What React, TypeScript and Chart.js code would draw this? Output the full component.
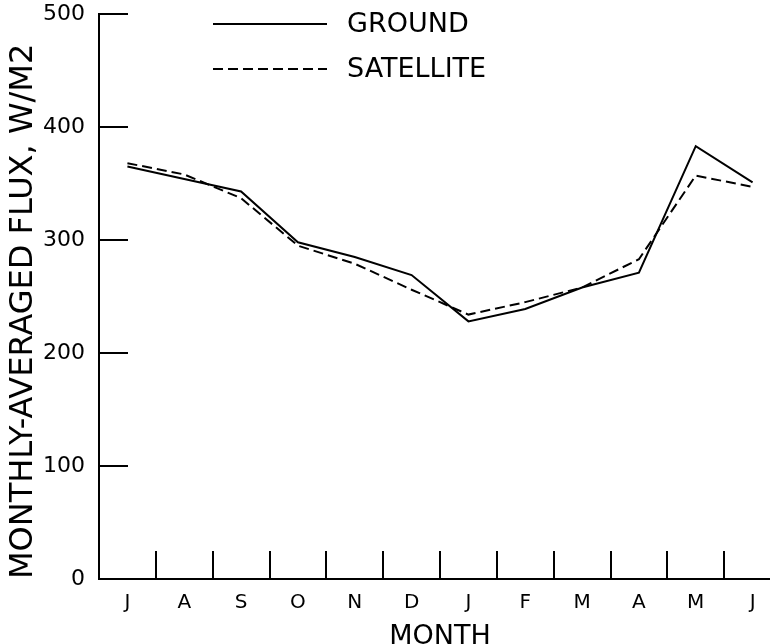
import React, { useEffect, useRef } from "react";
import { Chart, registerables } from "chart.js";

Chart.register(...registerables);

const months = ["J", "A", "S", "O", "N", "D", "J", "F", "M", "A", "M", "J"];
const groundFlux = [365, 354, 343, 298, 285, 269, 228, 239, 258, 271, 383, 351];
const satelliteFlux = [368, 358, 337, 295, 279, 256, 234, 245, 258, 283, 357, 347];
const seriesNames = ["GROUND", "SATELLITE"];
const yMin = 0;
const yMax = 500;
const yStep = 100;
const xTitle = "MONTH";
const yTitle = "MONTHLY-AVERAGED FLUX, W/M2";

const FONT = "'DejaVu Sans', 'Liberation Sans', sans-serif";

const innerTicksAndLegend = {
  id: "innerTicksAndLegend",
  afterDatasetsDraw(chart: any) {
    const { ctx, chartArea, scales } = chart;
    const xs = scales.x;
    const ys = scales.y;
    ctx.save();
    ctx.strokeStyle = "#000";
    ctx.lineWidth = 2;
    ctx.beginPath();
    for (let i = 0; i < xs.ticks.length - 1; i++) {
      const px = Math.round((xs.getPixelForTick(i) + xs.getPixelForTick(i + 1)) / 2);
      ctx.moveTo(px, chartArea.bottom);
      ctx.lineTo(px, chartArea.bottom - 28);
    }
    for (let i = 0; i < ys.ticks.length; i++) {
      const py = Math.round(ys.getPixelForTick(i));
      ctx.moveTo(chartArea.left, py);
      ctx.lineTo(chartArea.left + 29, py);
    }
    ctx.stroke();

    chart.data.datasets.forEach((ds: any, i: number) => {
      const yy = 24 + i * 45;
      ctx.setLineDash(ds.borderDash || []);
      ctx.lineWidth = 2;
      ctx.strokeStyle = ds.borderColor;
      ctx.beginPath();
      ctx.moveTo(213, yy);
      ctx.lineTo(327, yy);
      ctx.stroke();
      ctx.setLineDash([]);
      ctx.font = `27px ${FONT}`;
      ctx.textBaseline = "middle";
      ctx.textAlign = "left";
      ctx.fillStyle = "#000";
      ctx.fillText(ds.label, 347, yy + 1);
    });
    ctx.restore();
  },
};

export default function App() {
  const ref = useRef<HTMLCanvasElement | null>(null);

  useEffect(() => {
    if (!ref.current) return;
    const chart = new Chart(ref.current, {
      type: "line",
      data: {
        labels: months,
        datasets: [
          {
            label: seriesNames[0],
            data: groundFlux,
            borderColor: "#000",
            borderWidth: 2,
            pointRadius: 0,
            tension: 0,
            fill: false,
          },
          {
            label: seriesNames[1],
            data: satelliteFlux,
            borderColor: "#000",
            borderWidth: 2,
            borderDash: [10, 5],
            pointRadius: 0,
            tension: 0,
            fill: false,
          },
        ],
      },
      options: {
        animation: false,
        responsive: false,
        devicePixelRatio: 1,
        layout: { padding: { top: 14, right: 9, left: 0, bottom: 0 } },
        plugins: {
          legend: { display: false },
          tooltip: { enabled: false },
        },
        scales: {
          x: {
            type: "category",
            offset: true,
            grid: { display: false },
            border: { display: true, color: "#000", width: 2 },
            ticks: {
              color: "#000",
              font: { family: FONT, size: 20, lineHeight: 1.2 },
              padding: 4,
              autoSkip: false,
              maxRotation: 0,
            },
            title: {
              display: true,
              text: xTitle,
              color: "#000",
              font: { family: FONT, size: 27, lineHeight: 0.5 },
              padding: { top: 0, bottom: 0 },
            },
            afterFit(scale: any) {
              scale.height = 65;
              scale.paddingLeft = 0;
              scale.paddingRight = 0;
            },
          },
          y: {
            type: "linear",
            min: yMin,
            max: yMax,
            grid: { display: false },
            border: { display: true, color: "#000", width: 2 },
            ticks: {
              stepSize: yStep,
              color: "#000",
              font: { family: FONT, size: 22 },
              padding: 6,
            },
            title: {
              display: true,
              text: yTitle,
              align: "start",
              color: "#000",
              font: { family: FONT, size: 32, lineHeight: 1.2 },
              padding: { top: 4, bottom: 0 },
            },
            afterFit(scale: any) {
              scale.width = 99;
              scale.paddingTop = 0;
              scale.paddingBottom = 0;
            },
          },
        },
      },
      plugins: [innerTicksAndLegend],
    });
    return () => chart.destroy();
  }, []);

  return (
    <div
      style={{
        position: "absolute",
        left: 0,
        top: 0,
        width: 770,
        height: 644,
        overflow: "hidden",
        background: "#fff",
      }}
    >
      <canvas ref={ref} width={790} height={644} style={{ display: "block" }} />
    </div>
  );
}
